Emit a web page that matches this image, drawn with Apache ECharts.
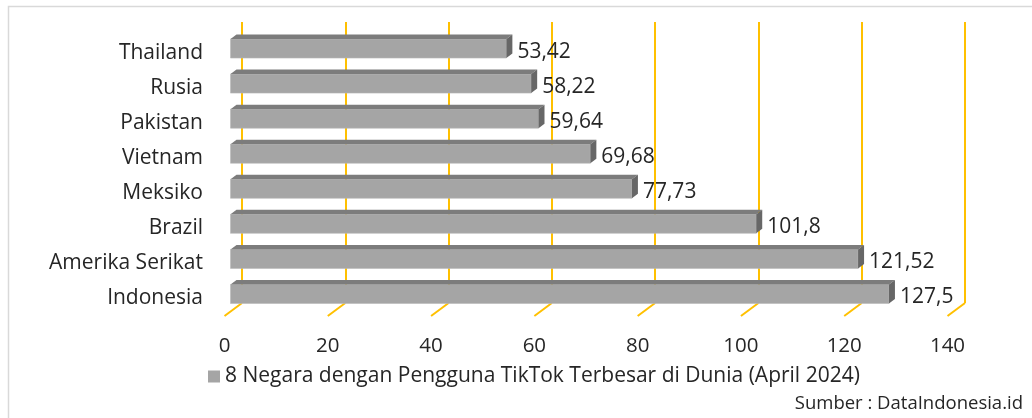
<!DOCTYPE html>
<html>
<head>
<meta charset="utf-8">
<script src="https://cdn.jsdelivr.net/npm/echarts@6/dist/echarts.min.js"></script>
<style>
html,body{margin:0;padding:0;background:#fff;}
#chart{width:1032px;height:418px;}
</style>
</head>
<body>
<div id="chart"></div>
<script>
/*
* 8 Negara dengan Pengguna TikTok Terbesar di Dunia (April 2024)
*/
var countries = ['Thailand', 'Rusia', 'Pakistan', 'Vietnam', 'Meksiko', 'Brazil', 'Amerika Serikat', 'Indonesia'];
var users = [53.42, 58.22, 59.64, 69.68, 77.73, 101.8, 121.52, 127.5];
var valueLabels = ['53,42', '58,22', '59,64', '69,68', '77,73', '101,8', '121,52', '127,5'];
var ticks = [0, 20, 40, 60, 80, 100, 120, 140];
var seriesName = '8 Negara dengan Pengguna TikTok Terbesar di Dunia (April 2024)';
var sourceText = 'Sumber : DataIndonesia.id';

var FONT = '"Open Sans", "Liberation Sans", Arial, sans-serif';
var TEXT = '#262626';
var GOLD = '#ffc000';
// 3D depth of the chart floor (front plane -> back wall)
var DEPTH_X = 17.5, DEPTH_Y = -13;

var barData = [];
for (var i = 0; i < countries.length; i++) {
	barData.push([users[i], i, valueLabels[i]]);
}
var tickData = [];
for (var j = 0; j < ticks.length; j++) {
	tickData.push([ticks[j]]);
}

function renderBar(params, api) {
	var idx = api.value(1);
	var end = api.coord([api.value(0), idx]);
	var start = api.coord([0, idx]);
	var x0 = start[0] + 6, x1 = end[0] + 6;
	var cy = end[1] - 4.5;
	var top = cy - 9.5, bottom = cy + 9.5;
	var dx = 6, dy = -4.5;
	return {
		type: 'group',
		children: [
			{
				type: 'rect',
				shape: {x: x0, y: top, width: x1 - x0, height: bottom - top},
				style: {fill: '#a5a5a5', stroke: '#b8b8b8', lineWidth: 0.6}
			},
			{
				type: 'polygon',
				shape: {points: [[x0, top], [x1, top], [x1 + dx, top + dy], [x0 + dx, top + dy]]},
				style: {fill: '#7c7c7c'}
			},
			{
				type: 'polygon',
				shape: {points: [[x1, top], [x1 + dx, top + dy], [x1 + dx, bottom + dy], [x1, bottom]]},
				style: {fill: '#676767'}
			},
			{
				type: 'text',
				x: x1 + dx + 5,
				y: end[1] - 1,
				style: {
					text: api.value(2),
					fill: TEXT,
					font: '21px ' + FONT,
					align: 'left',
					verticalAlign: 'middle'
				}
			}
		]
	};
}

function renderFloorTick(params, api) {
	var p = api.coord([api.value(0), 0]);
	var by = params.coordSys.y + params.coordSys.height;
	return {
		type: 'line',
		shape: {x1: p[0], y1: by, x2: p[0] + DEPTH_X, y2: by + DEPTH_Y},
		style: {stroke: GOLD, lineWidth: 2}
	};
}

var option = {
	backgroundColor: '#ffffff',
	animation: false,
	textStyle: {fontFamily: FONT, color: TEXT},
	graphic: [{
		type: 'rect',
		shape: {x: 8.5, y: 6.5, width: 1040, height: 430},
		style: {fill: 'none', stroke: '#d9d9d9', lineWidth: 1.5},
		silent: true
	}],
	title: {
		text: sourceText,
		right: 4,
		top: 389,
		textStyle: {fontFamily: FONT, fontSize: 18.5, fontWeight: 'normal', color: TEXT}
	},
	legend: {
		data: [seriesName],
		left: 203,
		top: 361,
		icon: 'rect',
		itemWidth: 12,
		itemHeight: 12,
		itemGap: 4,
		textStyle: {fontFamily: FONT, fontSize: 21, color: TEXT}
	},
	grid: [
		// back wall
		{left: 242, top: 22, width: 723, height: 281},
		// front plane
		{left: 224.5, top: 35.5, width: 723, height: 280.5}
	],
	xAxis: [
		{
			gridIndex: 0, type: 'value', min: 0, max: 140, interval: 20,
			axisLine: {show: false}, axisTick: {show: false}, axisLabel: {show: false},
			splitLine: {show: true, lineStyle: {color: GOLD, width: 2}}
		},
		{
			gridIndex: 1, type: 'value', min: 0, max: 140, interval: 20,
			axisLine: {show: false}, axisTick: {show: false}, splitLine: {show: false},
			axisLabel: {margin: 20, fontSize: 20.5, fontFamily: FONT, color: TEXT}
		}
	],
	yAxis: [
		{
			gridIndex: 0, type: 'value', show: false
		},
		{
			gridIndex: 1, type: 'category', data: countries, inverse: true,
			axisLine: {show: false}, axisTick: {show: false}, splitLine: {show: false},
			axisLabel: {margin: 21.5, fontSize: 21, fontFamily: FONT, color: TEXT, padding: [5, 0, 0, 0]}
		}
	],
	series: [
		{
			name: 'floor',
			type: 'custom',
			xAxisIndex: 1,
			yAxisIndex: 1,
			renderItem: renderFloorTick,
			data: tickData,
			silent: true,
			z: 1
		},
		{
			name: seriesName,
			type: 'custom',
			xAxisIndex: 1,
			yAxisIndex: 1,
			itemStyle: {color: '#a5a5a5'},
			renderItem: renderBar,
			encode: {x: 0, y: 1},
			data: barData,
			z: 3
		}
	]
};

var myChart = echarts.init(document.getElementById('chart'));
myChart.setOption(option);
</script>
</body>
</html>
